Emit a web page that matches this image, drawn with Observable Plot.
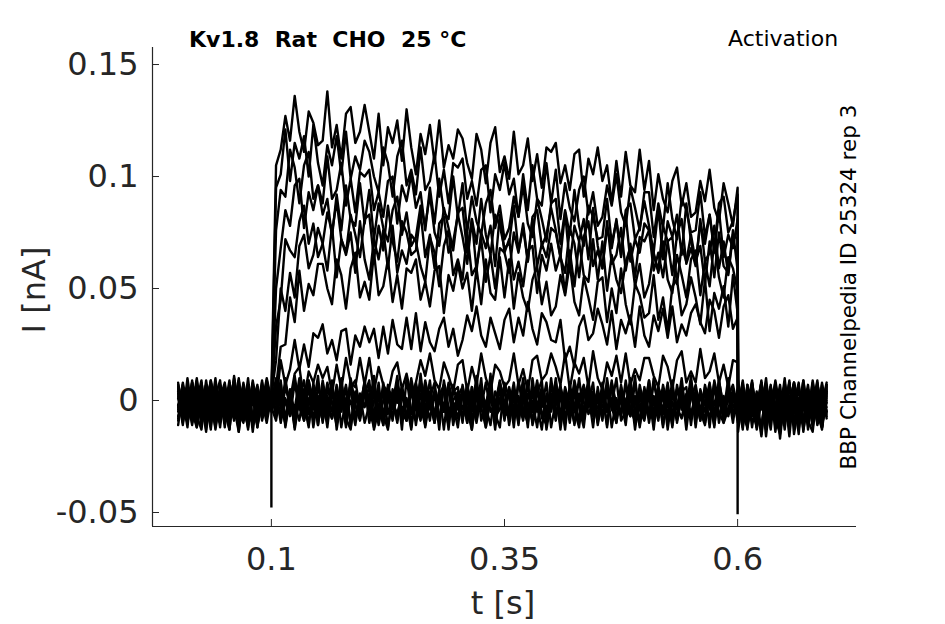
<!DOCTYPE html>
<html>
<head>
<meta charset="utf-8">
<script src="https://cdn.jsdelivr.net/npm/d3@7"></script>
<script src="https://cdn.jsdelivr.net/npm/@observablehq/plot@0.6"></script>
<style>
  html, body { margin: 0; padding: 0; background: white; }
  #chart { position: relative; width: 945px; height: 624px; }
</style>
</head>
<body>
<div id="chart"></div>
<script>
// ---- Data (currents in pA; 1 nA = 1000 pA) ----
// Each sweep: 20 samples 0–0.095 s, 1 sample at 0.1 s, 100 samples 0.105–0.6 s, 20 samples 0.6005–0.6955 s
const sweepA = [
  -11,4,-2,8,-7,-13,3,-5,10,-9,1,-6,6,-12,-1,7,-8,2,-4,9,
  -1,
  5,-10,1,-6,11,-3,-9,7,-12,2,
  -5,8,-1,-11,4,-7,10,-2,-8,3,
  9,-13,-4,6,-6,2,-10,5,0,-9,
  -3,7,-12,1,8,-7,-2,-11,4,6,
  -8,3,-5,11,-9,-1,5,-6,-12,8,
  1,-7,9,-4,-10,6,-2,-13,3,-5,
  10,-8,-3,5,-11,1,7,-6,-1,-9,
  4,-12,8,-2,-7,9,-5,2,-10,6,
  -6,0,-9,5,-13,3,-4,10,-8,1,
  7,-5,-11,3,-2,8,-10,-4,5,-7,
  -5,8,-11,0,-7,4,-13,6,-2,-9,3,-16,5,-4,9,-10,1,-6,-12,4
];
const sweepB = [
  7,-4,-9,1,-12,5,-3,8,-6,-10,4,-1,9,-7,2,-13,6,-5,-2,10,
  0,
  -4,9,-11,3,-7,6,-1,-12,8,-5,
  2,-9,5,-3,10,-8,-13,4,-6,7,
  -1,3,-10,8,-5,-2,11,-7,1,-12,
  6,-4,2,-9,5,-13,9,-3,-6,3,
  -10,7,-2,-5,4,-8,12,-11,1,-3,
  5,-12,8,0,-7,3,-4,6,-9,10,
  -6,2,-13,7,-2,-9,4,-1,8,-11,
  1,-5,9,-10,6,-3,-7,11,-12,2,
  -8,10,-3,-6,2,-11,7,-4,0,-7,
  4,-9,6,-12,9,-1,-6,3,-10,5,
  2,-13,7,-6,-1,5,-10,3,-8,-15,6,-3,8,-9,-4,4,-11,7,-2,-7
];
const sweepC = [
  -2,-8,10,-5,3,-11,6,-7,-1,4,-12,8,-3,1,-9,5,-14,3,-6,7,
  -5,
  8,-2,-7,4,-13,1,9,-6,-3,11,
  -10,5,-1,-8,2,-12,6,9,-4,-2,
  3,-7,8,-11,1,-4,6,-13,10,-5,
  -9,12,-6,-1,-10,5,-3,7,-8,2,
  6,-4,-13,2,7,-10,3,-2,9,-6,
  -3,8,-8,4,-12,10,-5,1,-7,5,
  2,-11,5,-6,9,-1,-8,3,-12,6,
  -7,4,-2,10,-9,-5,1,-10,7,-3,
  9,-6,3,-12,5,-1,-9,6,-4,11,
  -8,2,-5,6,-12,9,-3,-7,2,-9,
  -10,4,-3,9,-12,1,-7,6,-14,3,-5,-1,8,-9,2,-11,5,-6,-2,8
];
const sweep00 = [
  6,-10,3,-7,-1,9,-12,4,-5,2,-9,7,-3,-14,5,-6,1,-11,8,-4,
  3,
  -7,8,-12,2,-4,10,-9,-1,6,-11,
  4,-6,9,-13,1,-3,7,-8,3,-10,
  -2,11,-7,5,-12,0,8,-5,-9,6,
  -11,3,-4,9,-8,-1,5,-13,7,-3,
  2,-10,6,-6,10,-12,1,-4,8,-7,
  -5,4,-11,7,-2,-9,3,9,-13,0,
  8,-6,2,-10,5,-3,-12,6,-1,4,
  -9,10,-4,-7,1,-11,7,-2,5,-8,
  3,-13,6,0,-6,9,-10,2,-3,7,
  -12,5,-2,8,-9,1,-5,10,-7,-1,
  9,-6,-12,2,-8,5,-16,3,-4,7,-10,-1,4,-13,6,-7,1,-9,8,-5
];
const sweep01 = [
  -3,6,-8,2,-11,4,-5,9,-2,-9,3,-6,7,-12,1,-4,8,-7,0,-10,
  2,
  -6,5,-9,3,-12,7,-4,1,-8,6,
  -2,-10,4,-7,8,-5,0,-11,3,-3,
  7,-8,2,-6,-13,5,-1,6,-9,4,
  -4,9,-7,1,-10,3,-5,8,-2,-12,
  5,-6,2,-9,6,-3,-11,4,-1,7,
  -8,3,-5,10,-7,0,-12,5,-4,2,
  -9,6,-2,-7,4,-10,1,8,-6,-3,
  3,-11,7,-4,0,-8,5,-13,2,-5,
  9,-7,-1,4,-10,6,-3,-8,3,-6,
  1,-9,7,-2,-11,4,-5,6,-7,2,
  -14,3,-6,8,-10,1,-4,7,-12,-2,5,-8,2,-15,6,-3,-9,4,-6,1
];
const sweep02 = [
  5,-9,2,-4,10,-7,-1,-13,6,-3,4,-8,11,-5,-10,3,-2,7,-9,1,
  -4,
  3,-8,6,-2,-10,4,-6,9,-4,-1,
  -9,2,-5,7,-12,1,5,-7,-3,8,
  -6,4,-11,0,6,-8,3,-4,-9,5,
  2,-7,8,-3,-6,4,-13,6,-1,-8,
  7,-5,1,-10,3,-2,9,-7,-4,5,
  -11,2,-6,6,-1,-9,4,-3,8,-12,
  0,5,-8,3,-5,10,-7,-2,4,-10,
  6,-4,-1,-9,7,-6,2,-3,-11,4,
  -7,8,-2,-5,3,-12,5,0,-8,6,
  -3,4,-10,7,-5,1,-8,5,-2,-6,
  4,-11,7,-5,-1,-16,3,-7,9,-4,-10,2,-6,6,-13,-1,5,-8,3,-5
];
const sweep03 = [
  -7,1,-12,8,-3,-6,4,-10,2,9,-8,-1,5,-14,3,-5,6,-11,0,4,
  -3,
  -9,4,-1,-7,8,-4,2,-11,5,-6,
  9,-3,-8,1,-5,6,-12,3,-2,7,
  -10,0,5,-6,2,-9,7,-4,-1,-13,
  4,-6,9,-2,-8,3,-5,6,-11,1,
  -4,7,-9,2,-3,-12,5,-7,8,-1,
  -6,3,-10,6,-2,-5,9,-8,1,-4,
  5,-13,3,-6,7,-1,-9,4,-5,2,
  -8,6,-3,-10,4,0,-7,8,-4,-9,
  3,-2,6,-11,1,-6,5,-3,-9,7,
  -1,-7,4,-4,8,-10,2,-6,3,-5,
  -8,2,-13,5,-4,8,-9,-1,6,-17,3,-6,-2,7,-10,4,-5,1,-12,6
];
const sweep04 = [
  2,-5,7,-10,-2,6,-9,3,-13,1,8,-6,-3,10,-8,-1,4,-12,5,-4,
  1,
  7,-3,-10,5,-6,2,-8,9,-1,-5,
  3,-12,6,-4,1,-7,8,-2,-9,4,
  -5,6,-3,-11,7,-1,-6,3,-8,10,
  -2,-9,5,-4,2,-10,7,-6,0,4,
  -8,1,-13,6,-3,8,-5,-1,4,-9,
  6,-4,2,-7,9,-11,-2,5,-6,3,
  -1,7,-9,4,-4,-12,6,-3,2,-7,
  8,-5,1,-8,3,-2,10,-6,-4,5,
  -10,2,-6,7,-3,-1,-8,4,6,-11,
  5,-3,-9,2,-6,9,-4,1,-7,4,
  6,-9,1,-4,-12,7,-2,-8,4,-6,10,-11,0,-5,3,-9,-14,5,-3,7
];
const sweep05 = [
  -9,3,-1,-7,9,-11,2,-4,6,-8,0,-13,5,-2,7,-6,-10,3,-5,8,
  -2,
  1,-7,10,-4,-2,-9,5,-6,3,-11,
  6,-1,-8,4,-3,7,-10,2,-5,9,
  -4,-12,3,-7,5,1,-9,6,-2,-6,
  8,-3,-11,4,-6,2,7,-8,-1,-4,
  3,-10,6,-5,1,-8,4,-13,7,-2,
  -7,5,-1,-9,3,-4,8,-6,-11,2,
  4,-8,6,-2,-10,3,-5,9,-7,0,
  -3,5,-12,1,-6,7,-4,-9,3,-1,
  6,-10,2,-4,8,-7,-2,5,-13,4,
  -6,3,-1,-8,6,-5,-10,2,7,-3,
  -7,5,-10,2,-3,-13,6,-1,-8,4,-5,9,-15,-2,3,-6,8,-11,-4,2
];
const sweep06 = [
  3,-11,5,-1,-7,8,-4,2,-9,6,-3,-6,10,-8,0,-5,7,-10,4,-2,
  -1,
  10,-1,7,0,12,15,0,13,8,16,
  10,15,3,16,5,19,8,6,19,7,
  19,4,15,7,3,13,17,5,12,2,
  8,18,11,21,9,5,17,11,4,16,
  18,4,15,7,21,10,4,16,13,6,
  9,21,7,14,4,18,20,9,12,21,
  15,7,21,5,17,12,19,6,22,10,
  5,17,11,20,8,21,7,14,9,19,
  19,11,6,20,15,5,18,22,8,13,
  8,23,10,13,21,8,16,6,18,17,
  -4,9,-7,1,-10,4,-2,-13,6,-5,3,-8,8,-3,-9,5,-6,1,-12,7
];
const sweep07 = [
  -2,5,-8,9,-6,-3,7,-11,4,-5,1,-9,8,-2,-7,3,-12,6,-4,2,
  1,
  -2,18,7,14,27,14,25,15,30,28,
  34,21,27,18,31,32,16,29,24,33,
  26,32,19,33,21,36,25,23,37,23,
  39,22,35,26,22,32,37,24,32,20,
  27,38,31,42,29,24,37,30,23,36,
  41,26,37,29,44,32,25,39,35,27,
  26,36,18,24,15,33,38,27,30,41,
  34,25,40,23,36,30,38,24,42,29,
  24,38,31,41,28,42,26,34,29,39,
  43,35,30,45,40,28,42,47,32,37,
  7,-3,-9,3,-6,-12,4,-2,8,-8,1,-5,6,-11,2,-7,9,-4,-13,3
];
const sweep08 = [
  8,-6,-2,5,-9,3,-13,6,-4,-1,7,-10,4,-5,2,-8,6,-12,1,-3,
  -2,
  6,24,25,46,35,58,40,52,47,61,
  61,50,43,63,56,41,59,66,46,53,
  45,66,47,51,63,44,56,41,59,57,
  63,45,53,42,58,60,39,56,49,61,
  50,57,40,59,43,63,48,45,64,46,
  63,41,57,46,40,54,60,43,53,38,
  42,56,47,61,44,38,55,46,36,53,
  55,35,50,39,59,43,34,52,47,37,
  39,56,36,46,31,51,54,38,43,55,
  46,34,54,31,48,41,51,33,56,39,
  -10,6,-4,1,-7,9,-12,2,-5,-1,7,-9,4,-6,-11,3,-3,8,-8,5
];
const sweep09 = [
  -4,7,-10,3,-1,-7,9,-5,2,-12,6,-3,-8,4,-6,10,-9,1,-4,5,
  2,
  18,50,40,57,46,69,74,59,65,77,
  70,58,78,55,72,65,75,57,80,63,
  54,72,63,76,59,78,57,67,61,74,
  71,60,53,73,66,51,69,76,56,63,
  54,75,56,60,72,53,65,50,68,66,
  72,54,62,51,67,69,48,65,58,70,
  58,65,48,67,51,71,56,53,72,54,
  71,49,65,54,48,62,68,51,61,46,
  52,66,57,71,54,48,65,56,46,63,
  67,47,62,51,71,55,46,64,59,49,
  2,-12,6,-3,-8,5,-1,-10,7,-6,3,-9,-2,8,-14,4,-5,6,-7,-1
];
const sweep10 = [
  1,-9,4,-3,8,-8,-1,5,-11,7,-4,2,-9,6,-2,-12,4,-5,9,-7,
  0,
  33,45,72,67,64,80,87,70,79,64,
  70,84,75,89,72,66,83,74,64,81,
  83,63,78,67,87,71,62,80,75,65,
  67,84,64,74,59,79,82,66,71,83,
  73,61,81,58,75,68,78,60,83,66,
  57,75,66,79,62,81,60,70,64,77,
  75,64,57,77,70,55,73,80,60,67,
  59,80,61,65,77,58,70,55,73,71,
  76,58,66,55,71,73,52,69,62,74,
  62,69,52,71,55,75,60,57,76,58,
  -6,2,-9,8,-4,-1,-11,5,-7,3,-13,6,-2,-8,9,-5,1,-10,4,-3
];
const sweep11 = [
  -8,3,6,-5,-12,2,-3,9,-7,1,-10,5,-2,-6,8,-4,3,-11,6,-1,
  -3,
  50,68,85,78,96,99,77,93,85,96,
  83,90,73,92,76,96,81,78,97,79,
  94,72,88,77,71,85,91,74,84,69,
  73,87,78,92,75,69,86,77,67,84,
  86,66,81,70,90,74,65,83,78,68,
  70,87,67,77,62,82,85,69,74,86,
  76,64,84,61,78,71,81,63,86,69,
  59,77,68,81,64,83,62,72,66,79,
  76,65,58,78,71,56,74,81,61,68,
  60,81,62,66,78,59,71,56,74,72,
  5,-10,2,-7,4,-15,6,-2,-8,3,-5,8,-10,1,-4,7,-9,-2,4,-8
];
const sweep12 = [
  6,-4,1,-11,5,-7,-2,8,-9,3,-5,-13,6,-1,4,-8,9,-3,-6,2,
  1,
  76,94,91,112,104,88,105,111,90,96,
  88,109,90,94,106,87,99,84,102,100,
  103,85,93,82,98,100,79,96,89,101,
  86,93,76,95,79,99,84,81,100,82,
  97,75,91,80,74,88,94,77,87,72,
  77,91,82,96,79,73,90,81,71,88,
  90,70,85,74,94,78,69,87,82,72,
  73,90,70,80,65,85,88,72,77,89,
  78,66,86,63,80,73,83,65,88,71,
  61,79,70,83,66,85,64,74,68,81,
  -9,4,-3,7,-13,0,-6,5,-2,-10,8,-4,1,-9,6,-7,-3,9,-11,0
];
const sweep13 = [
  -5,8,-3,-9,2,-6,7,-1,-12,4,-4,9,-8,0,-6,5,-10,3,-2,6,
  -1,
  95,101,121,98,115,108,118,100,123,106,
  96,114,105,118,101,120,99,109,103,116,
  111,100,93,113,106,91,109,116,96,103,
  92,113,94,98,110,91,103,88,106,104,
  108,90,98,87,103,105,84,101,94,106,
  92,99,82,101,85,105,90,87,106,88,
  103,81,97,86,80,94,100,83,93,78,
  82,96,87,101,84,78,95,86,76,93,
  93,73,88,77,97,81,72,90,85,75,
  76,93,73,83,68,88,91,75,80,92,
  3,-6,-11,4,-2,8,-9,-5,6,-14,1,-3,7,-8,-1,5,-12,2,-7,4
];
const sweep14 = [
  4,-2,-10,6,-6,1,-14,7,-3,5,-9,2,-7,9,-4,-11,1,6,-8,-2,
  2,
  105,112,127,116,136,120,111,129,124,114,
  116,138,113,123,108,128,131,115,120,132,
  120,108,128,105,122,115,125,107,130,113,
  101,119,110,123,106,125,104,114,108,121,
  117,106,99,119,112,97,115,122,102,109,
  99,120,101,105,117,98,110,95,113,111,
  115,97,105,94,110,112,91,108,101,113,
  98,105,88,107,91,111,96,93,112,94,
  107,85,101,90,84,98,104,87,97,82,
  84,98,89,103,86,80,97,88,78,95,
  -1,-8,5,-12,3,-4,10,-9,-2,4,-7,8,-11,0,6,-13,2,-5,7,-6
];
const sweeps = [sweepA, sweepB, sweepC, sweep00, sweep01, sweep02, sweep03, sweep04, sweep05,
                sweep06, sweep07, sweep08, sweep09, sweep10, sweep11, sweep12, sweep13, sweep14];

// Capacitive transients at step on / off (nA)
const transientTimes = [0.1, 0.6];
const transientPeaks = [-0.048, -0.051];

// Axis limits and ticks
const xLimits = [-0.0275, 0.7275];
const yLimits = [-0.05625, 0.1576];
const xTicks = [0.1, 0.35, 0.6];
const yTicks = [-0.05, 0, 0.05, 0.1, 0.15];

// Sampling clock (s): 5 ms sampling; off-step samples start 0.5 ms after the step
const timeOn = d3.range(121).map(i => +(i * 0.005).toFixed(4));
const timeOff = d3.range(20).map(i => +(0.6005 + i * 0.005).toFixed(4));
const time = timeOn.concat(timeOff);

sweeps.forEach((s, k) => {
  if (s.length !== time.length) throw new Error("sweep index " + k + " has " + s.length + " samples");
});

const rows = sweeps.flatMap((s, k) => s.map((v, i) => ({sweep: k, t: time[i], i: v / 1000})));
const transients = transientTimes.map((t, k) => ({t, lo: transientPeaks[k]}));

const font = "DejaVu Sans";
const axisColor = "#262626";

const chart = Plot.plot({
  width: 945,
  height: 624,
  marginLeft: 152,
  marginRight: 89,
  marginTop: 47,
  marginBottom: 98,
  style: {fontFamily: font, fontSize: "32px", color: axisColor, background: "white", overflow: "visible"},
  x: {domain: xLimits},
  y: {domain: yLimits},
  marks: [
    Plot.line(rows, {x: "t", y: "i", z: "sweep", stroke: "black", strokeWidth: 2.4}),
    Plot.ruleX(transients, {x: "t", y1: 0, y2: "lo", stroke: "black", strokeWidth: 2.4}),
    Plot.ruleX([xLimits[0]], {stroke: axisColor, strokeWidth: 1.2}),
    Plot.ruleY([yLimits[0]], {stroke: axisColor, strokeWidth: 1.2}),
    Plot.axisY(yTicks, {tickSize: -7, tickPadding: 21, tickFormat: d => String(d), fontSize: 32, label: null, fill: axisColor}),
    Plot.axisX(xTicks, {tickSize: -7, tickPadding: 28, tickFormat: d => String(d), fontSize: 32, label: null, fill: axisColor})
  ]
});
document.getElementById("chart").appendChild(chart);

// Titles and labels
const svg = d3.select(chart);
const addText = (txt, x, y, opts = {}) => {
  const el = svg.append("text")
    .attr("x", x).attr("y", y)
    .attr("font-family", font)
    .attr("font-size", opts.size || 22)
    .attr("font-weight", opts.weight || "normal")
    .attr("fill", opts.fill || "black")
    .attr("text-anchor", opts.anchor || "start")
    .style("white-space", "pre")
    .text(txt);
  if (opts.rotate) el.attr("transform", `rotate(${opts.rotate},${x},${y})`);
  return el;
};
addText("Kv1.8\u00a0\u00a0Rat\u00a0\u00a0CHO\u00a0\u00a025\u00a0°C", 189, 47, {size: 22, weight: "bold"});
addText("Activation", 728, 46, {size: 22});
addText("BBP Channelpedia ID 25324 rep 3", 856, 287, {size: 21.5, anchor: "middle", rotate: -90});
addText("I [nA]", 45, 290, {size: 32, anchor: "middle", rotate: -90, fill: axisColor});
addText("t [s]", 503, 614, {size: 32, anchor: "middle", fill: axisColor});
</script>
</body>
</html>
